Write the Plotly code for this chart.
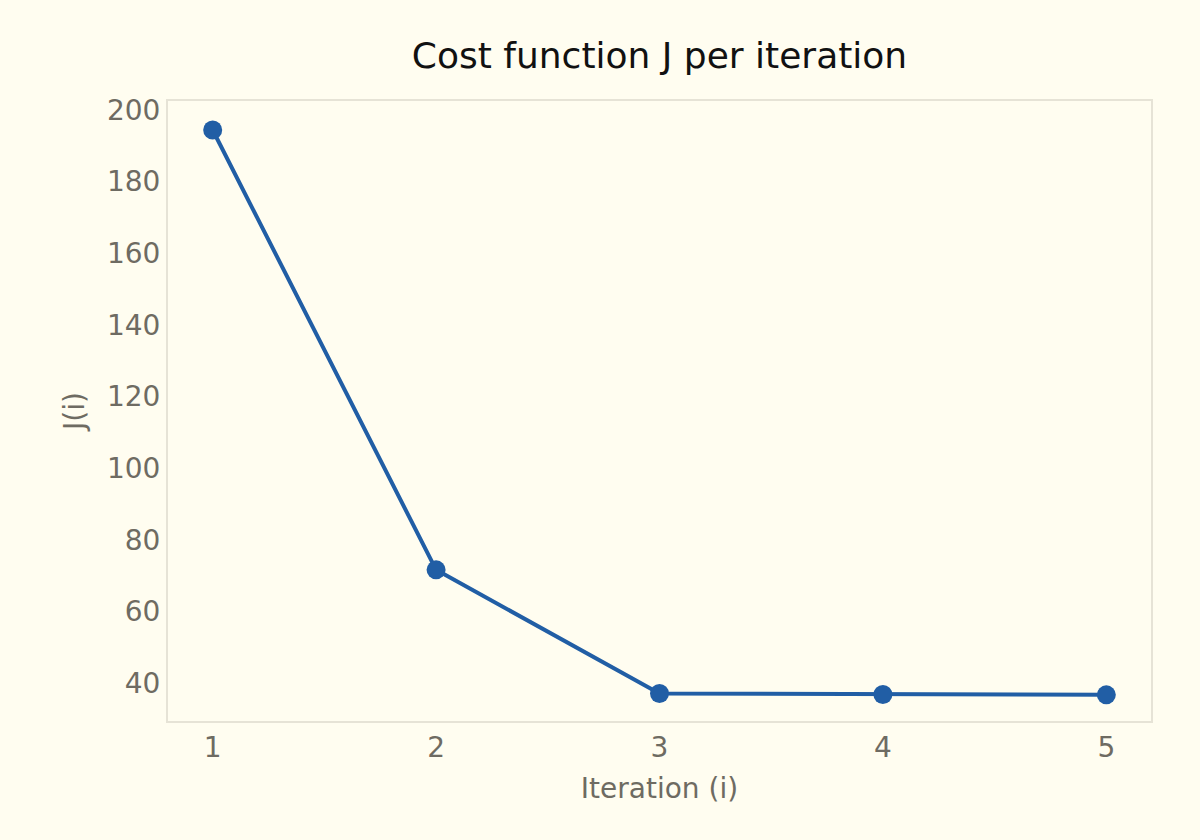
import plotly.graph_objects as go

# cost per iteration
iterations = [1, 2, 3, 4, 5]
cost = [194.4, 71.6, 37.1, 36.8, 36.7]

fig = go.Figure(data=[go.Scatter(
    x=iterations,
    y=cost,
    mode='lines+markers',
    line=dict(color='#215ea5', width=4),
    marker=dict(size=19, color='#215ea5'),
    showlegend=False,
)])

grey = '#6e6b62'
fig.update_layout(
    width=1200, height=840,
    paper_bgcolor='#fffdf0',
    plot_bgcolor='#fffdf0',
    font=dict(family='DejaVu Sans', size=23, color=grey),
    title=dict(text='Cost function J per iteration', x=0.5, xref='paper',
               y=0.934, yanchor='middle',
               font=dict(size=36, color='#111111')),
    margin=dict(l=168, r=49, t=101, b=119),
    xaxis=dict(range=[0.8, 5.2], tickvals=iterations, showgrid=False, zeroline=False,
               showline=True, mirror=True, linecolor='#e6e3d6', linewidth=2,
               ticks='', tickfont=dict(size=28),
               title=dict(text='Iteration (i)', standoff=16)),
    yaxis=dict(range=[29.4, 202.5], dtick=20, tick0=0, showgrid=False, zeroline=False,
               showline=True, mirror=True, linecolor='#e6e3d6', linewidth=2,
               ticks='', tickfont=dict(size=28),
               title=dict(text='J(i)', standoff=14)),
)

# page has a default body margin, drop it so the figure sits at 0,0
fig.write_html("out.html", config={'displayModeBar': False},
               post_script="document.body.style.margin='0';document.body.style.background='#fffdf0';")
